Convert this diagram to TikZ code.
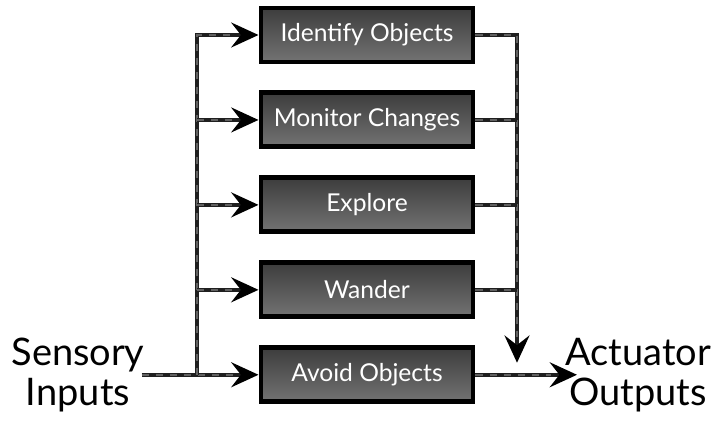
\documentclass[tikz,border=0pt]{standalone}
\usepackage{fontspec}
\setmainfont{Lato}
\usetikzlibrary{arrows.meta, positioning, calc}

\begin{document}
\begin{tikzpicture}[
      x=0.025cm, y=-0.025cm,
      node distance=0.65cm,
      behav/.style={rectangle, draw=black, line width=3.5pt, minimum width=5.3cm, minimum height=1.35cm,
        top color=black!76, bottom color=black!55, text=white, font=\fontsize{17.5}{20}\selectfont},
      label/.style={align=center, font=\fontsize{27}{28.5}\selectfont},
      stripe/.style={draw=black!62, line width=1.6pt, dash pattern=on 5pt off 5pt},
      wire/.style={line width=3pt, draw=black!88, postaction={stripe}},
      feed/.style={line width=3pt, draw=black!88, -{Stealth[length=0.68cm, width=0.62cm, inset=0.24cm, black]},
        postaction={stripe, -, shorten >=0.65cm}}
    ]
    \useasboundingbox (0,0) rectangle (720,422);

    % behaviour layers
    \node[behav] (ident) at (367,35) {Identify Objects};
    \node[behav, below=of ident] (monitor) {Monitor Changes};
    \node[behav, below=of monitor] (explore) {Explore};
    \node[behav, below=of explore] (wander) {Wander};
    \node[behav, below=of wander] (avoid) {Avoid Objects};

    \node[label] (sens) at (78,375) {Sensory\\Inputs};
    \node[label] (act) at (638,375) {Actuator\\Outputs};

    \coordinate (trunkL) at (197,0);
    \coordinate (trunkR) at (517,0);
    \coordinate (out) at (577,0);

    % inputs fan out
    \draw[feed] ([xshift=-0.2cm]sens.east |- avoid.west) -- (avoid.west);
    \draw[feed] (trunkL |- avoid.west) |- (ident.west);
    \foreach \b in {monitor, explore, wander}
      \draw[feed] (trunkL |- \b.west) -- (\b.west);

    % outputs merge
    \draw[feed] (ident.east) -| ([yshift=0.3cm]trunkR |- avoid.east);
    \foreach \b in {monitor, explore, wander}
      \draw[wire] (\b.east) -- (trunkR |- \b.east);
    \draw[feed] (avoid.east) -- (out |- avoid.east);
  \end{tikzpicture}
\end{document}
